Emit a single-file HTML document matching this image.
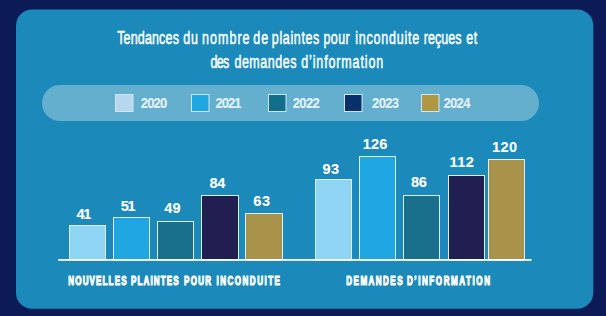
<!DOCTYPE html>
<html><head><meta charset="utf-8">
<style>
html,body{margin:0;padding:0;background:#0c1a55;width:606px;height:316px;overflow:hidden}
svg{display:block}
text{font-family:"Liberation Sans",sans-serif;fill:#fff}
</style></head><body>
<svg width="606" height="316" viewBox="0 0 606 316">
<rect x="0" y="0" width="606" height="316" fill="#0c1a55"/>
<rect x="16" y="9.5" width="577.3" height="299.2" rx="16" ry="16" fill="#1b8aba"/>
<text transform="scale(0.665,1)" x="176.27" y="44.00" font-size="18.8" textLength="92.73" lengthAdjust="spacing" style="stroke:#fff;stroke-width:0.55">Tendances</text>
<text transform="scale(0.665,1)" x="275.56" y="44.00" font-size="18.8" textLength="22.20" lengthAdjust="spacing" style="stroke:#fff;stroke-width:0.55">du</text>
<text transform="scale(0.665,1)" x="303.66" y="44.00" font-size="18.8" textLength="71.60" lengthAdjust="spacing" style="stroke:#fff;stroke-width:0.55">nombre</text>
<text transform="scale(0.665,1)" x="380.83" y="44.00" font-size="18.8" textLength="22.43" lengthAdjust="spacing" style="stroke:#fff;stroke-width:0.55">de</text>
<text transform="scale(0.665,1)" x="408.75" y="44.00" font-size="18.8" textLength="71.46" lengthAdjust="spacing" style="stroke:#fff;stroke-width:0.55">plaintes</text>
<text transform="scale(0.665,1)" x="486.59" y="44.00" font-size="18.8" textLength="39.13" lengthAdjust="spacing" style="stroke:#fff;stroke-width:0.55">pour</text>
<text transform="scale(0.665,1)" x="534.06" y="44.00" font-size="18.8" textLength="96.27" lengthAdjust="spacing" style="stroke:#fff;stroke-width:0.55">inconduite</text>
<text transform="scale(0.665,1)" x="637.20" y="44.00" font-size="18.8" textLength="56.95" lengthAdjust="spacing" style="stroke:#fff;stroke-width:0.55">reçues</text>
<text transform="scale(0.665,1)" x="701.10" y="44.00" font-size="18.8" textLength="16.39" lengthAdjust="spacing" style="stroke:#fff;stroke-width:0.55">et</text>
<text transform="scale(0.665,1)" x="316.54" y="67.80" font-size="18.8" textLength="28.33" lengthAdjust="spacing" style="stroke:#fff;stroke-width:0.55">des</text>
<text transform="scale(0.665,1)" x="352.49" y="67.80" font-size="18.8" textLength="93.32" lengthAdjust="spacing" style="stroke:#fff;stroke-width:0.55">demandes</text>
<text transform="scale(0.665,1)" x="453.01" y="67.80" font-size="18.8" textLength="123.14" lengthAdjust="spacing" style="stroke:#fff;stroke-width:0.55">d’information</text>
<rect x="42" y="85" width="497" height="36" rx="18" ry="18" fill="#64afce"/>
<g stroke="#cfe6f2" stroke-width="1">
<rect x="115.5" y="94.5" width="17.5" height="17" fill="#b7d7ef"/>
<rect x="191.5" y="94.5" width="17.5" height="17" fill="#1ea8e1"/>
<rect x="268.5" y="94.5" width="17.5" height="17" fill="#116f8c"/>
<rect x="344.5" y="94.5" width="17.5" height="17" fill="#08306a"/>
<rect x="421.5" y="94.5" width="17.5" height="17" fill="#b09843"/>
</g>
<text transform="scale(0.84,1)" x="167.52" y="107.70" font-size="15.5" font-weight="bold" textLength="31.60" lengthAdjust="spacing" style="fill:#e6f2f8;stroke:#e6f2f8;stroke-width:0.15">2020</text>
<text transform="scale(0.84,1)" x="256.43" y="107.70" font-size="15.5" font-weight="bold" textLength="30.97" lengthAdjust="spacing" style="fill:#e6f2f8;stroke:#e6f2f8;stroke-width:0.15">2021</text>
<text transform="scale(0.84,1)" x="348.45" y="107.70" font-size="15.5" font-weight="bold" textLength="32.31" lengthAdjust="spacing" style="fill:#e6f2f8;stroke:#e6f2f8;stroke-width:0.15">2022</text>
<text transform="scale(0.84,1)" x="442.99" y="107.70" font-size="15.5" font-weight="bold" textLength="32.14" lengthAdjust="spacing" style="fill:#e6f2f8;stroke:#e6f2f8;stroke-width:0.15">2023</text>
<text transform="scale(0.84,1)" x="527.89" y="107.70" font-size="15.5" font-weight="bold" textLength="32.17" lengthAdjust="spacing" style="fill:#e6f2f8;stroke:#e6f2f8;stroke-width:0.15">2024</text>
<g stroke="#dceef7" stroke-width="1">
<rect x="69.5" y="225.5" width="36" height="34.5" fill="#8fd4f3"/>
<rect x="113.5" y="217.5" width="36" height="42.5" fill="#1fa5e0"/>
<rect x="157.5" y="221.5" width="36" height="38.5" fill="#18708c"/>
<rect x="201.5" y="195.5" width="37" height="64.5" fill="#211f51"/>
<rect x="245.5" y="213.5" width="37" height="46.5" fill="#a9924a"/>
<rect x="315.5" y="179.5" width="36" height="80.5" fill="#8fd4f3"/>
<rect x="359.5" y="156.5" width="36" height="103.5" fill="#1fa5e0"/>
<rect x="403.5" y="195.5" width="36" height="64.5" fill="#18708c"/>
<rect x="448.5" y="175.5" width="36" height="84.5" fill="#211f51"/>
<rect x="488.5" y="159.5" width="36" height="100.5" fill="#a9924a"/>
</g>
<rect x="58.3" y="259" width="473.2" height="1.8" fill="#ffffff"/>
<text transform="scale(0.95,1)" x="80.45" y="218.60" font-size="15.3" font-weight="bold" textLength="15.78" lengthAdjust="spacing" style="stroke:#fff;stroke-width:0.1">41</text>
<text transform="scale(0.95,1)" x="127.10" y="210.60" font-size="15.3" font-weight="bold" textLength="15.69" lengthAdjust="spacing" style="stroke:#fff;stroke-width:0.1">51</text>
<text transform="scale(0.95,1)" x="172.77" y="212.70" font-size="15.3" font-weight="bold" textLength="17.27" lengthAdjust="spacing" style="stroke:#fff;stroke-width:0.1">49</text>
<text transform="scale(0.95,1)" x="220.51" y="187.70" font-size="15.3" font-weight="bold" textLength="16.61" lengthAdjust="spacing" style="stroke:#fff;stroke-width:0.1">84</text>
<text transform="scale(0.95,1)" x="266.57" y="205.60" font-size="15.3" font-weight="bold" textLength="17.82" lengthAdjust="spacing" style="stroke:#fff;stroke-width:0.1">63</text>
<text transform="scale(0.95,1)" x="339.53" y="173.60" font-size="15.3" font-weight="bold" textLength="17.30" lengthAdjust="spacing" style="stroke:#fff;stroke-width:0.1">93</text>
<text transform="scale(0.95,1)" x="381.87" y="149.50" font-size="15.3" font-weight="bold" textLength="25.77" lengthAdjust="spacing" style="stroke:#fff;stroke-width:0.1">126</text>
<text transform="scale(0.95,1)" x="432.74" y="187.30" font-size="15.3" font-weight="bold" textLength="16.65" lengthAdjust="spacing" style="stroke:#fff;stroke-width:0.1">86</text>
<text transform="scale(0.95,1)" x="473.04" y="167.30" font-size="15.3" font-weight="bold" textLength="25.79" lengthAdjust="spacing" style="stroke:#fff;stroke-width:0.1">112</text>
<text transform="scale(0.95,1)" x="517.91" y="152.40" font-size="15.3" font-weight="bold" textLength="26.34" lengthAdjust="spacing" style="stroke:#fff;stroke-width:0.1">120</text>
<text transform="scale(0.63,1)" x="108.39" y="284.70" font-size="12.8" font-weight="bold" textLength="92.51" lengthAdjust="spacing" style="stroke:#fff;stroke-width:1.1">NOUVELLES</text>
<text transform="scale(0.63,1)" x="207.94" y="284.70" font-size="12.8" font-weight="bold" textLength="75.77" lengthAdjust="spacing" style="stroke:#fff;stroke-width:1.1">PLAINTES</text>
<text transform="scale(0.63,1)" x="292.11" y="284.70" font-size="12.8" font-weight="bold" textLength="43.01" lengthAdjust="spacing" style="stroke:#fff;stroke-width:1.1">POUR</text>
<text transform="scale(0.63,1)" x="343.62" y="284.70" font-size="12.8" font-weight="bold" textLength="100.76" lengthAdjust="spacing" style="stroke:#fff;stroke-width:1.1">INCONDUITE</text>
<text transform="scale(0.63,1)" x="549.66" y="284.70" font-size="12.8" font-weight="bold" textLength="89.35" lengthAdjust="spacing" style="stroke:#fff;stroke-width:1.1">DEMANDES</text>
<text transform="scale(0.63,1)" x="645.97" y="284.70" font-size="12.8" font-weight="bold" textLength="131.81" lengthAdjust="spacing" style="stroke:#fff;stroke-width:1.1">D’INFORMATION</text>
</svg>
</body></html>
